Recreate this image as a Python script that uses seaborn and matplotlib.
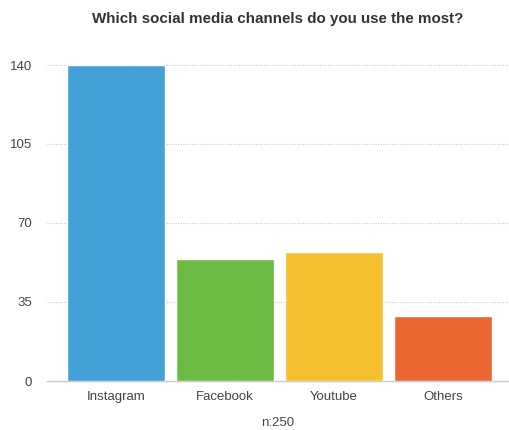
import matplotlib
matplotlib.use("Agg")
import matplotlib.pyplot as plt
import seaborn as sns
import pandas as pd

categories = ["Instagram", "Facebook", "Youtube", "Others"]
values = [140, 54, 57, 29]
colors = ["#42A2D8", "#6DBA45", "#F4C02F", "#EC6634"]
yticks = [0, 35, 70, 105, 140]
title = "Which social media channels do you use the most?"
xlabel = "n:250"

sns.set_theme(style="white")
plt.rcParams['font.family'] = ['Liberation Sans', 'DejaVu Sans']

df = pd.DataFrame({"channel": categories, "count": values})

fig = plt.figure(figsize=(5.09, 4.30), dpi=100)
ax = fig.add_axes([47/509, 1 - 381/430, 1 - 47/509, (381 - 65)/430])

sns.barplot(data=df, x="channel", y="count", hue="channel", palette=colors,
            legend=False, width=0.9, saturation=1, ax=ax, zorder=3)

ax.set_ylim(0, 140)
ax.set_xlim(-0.633, 3.606)
ax.set_yticks(yticks)
ax.set_yticklabels([str(v) for v in yticks])
ax.yaxis.grid(True, linestyle=(0, (1, 1.5)), color="#c8c8c8", linewidth=0.8, zorder=0)
for gl in ax.get_ygridlines():
    gl.set_clip_on(False)
ax.set_axisbelow(True)

for s in ["top", "right", "left"]:
    ax.spines[s].set_visible(False)
ax.spines["bottom"].set_color("#cccccc")
ax.spines["bottom"].set_linewidth(1.0)

ax.tick_params(axis="y", length=0, pad=11, labelsize=9.5, labelcolor="#444444")
ax.tick_params(axis="x", length=0, pad=7, labelsize=9.5, labelcolor="#444444")
ax.set_ylabel("")
ax.set_xlabel(xlabel, fontsize=9.5, color="#444444", labelpad=10)

fig.text(278/509, 1 - 19/430, title, ha="center", va="center",
         fontsize=10.9, fontweight="bold", color="#333333")

fig.savefig("out.png", dpi=100)
